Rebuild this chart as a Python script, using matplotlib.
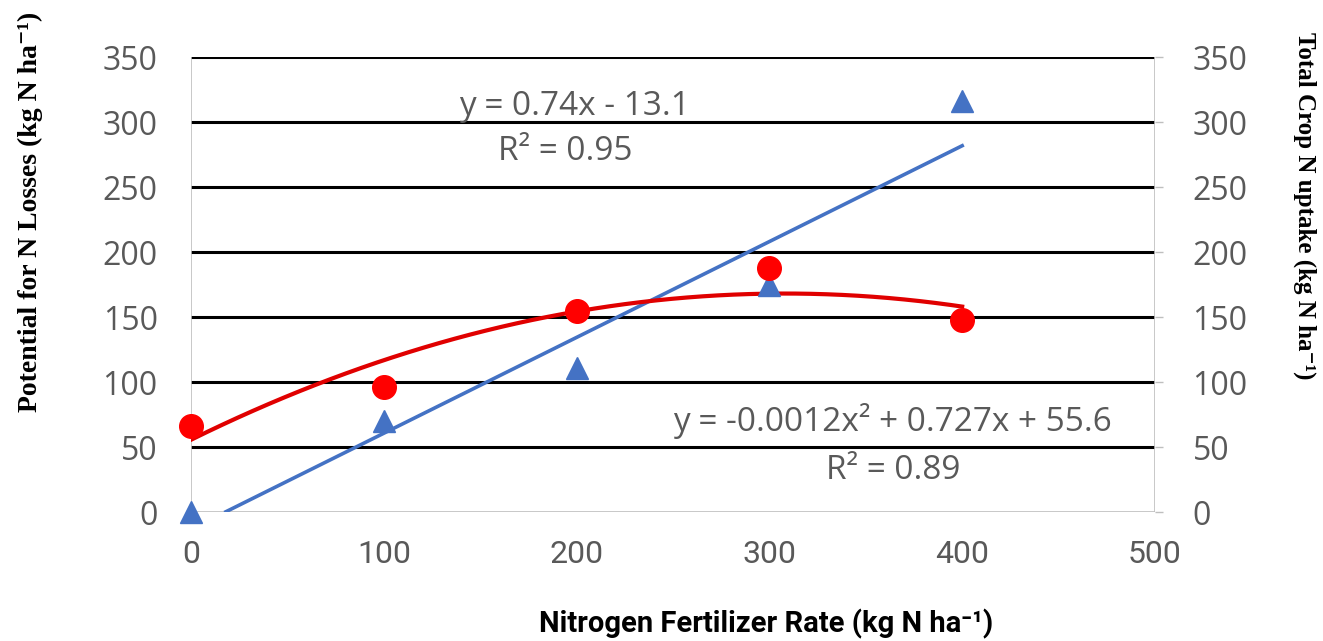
import numpy as np
import matplotlib.pyplot as plt

# Data
rates = [0, 100, 200, 300, 400]
uptake = [0, 70, 111, 175, 316]      # blue triangles (Total crop N uptake)
losses = [66, 96, 155, 188, 148]     # red circles (Potential for N losses)

x_ticks = [0, 100, 200, 300, 400, 500]
y_ticks = [0, 50, 100, 150, 200, 250, 300, 350]

blue = '#4472C4'
red = '#FF0000'
grey_txt = '#595959'

fig = plt.figure(figsize=(13.23, 6.41), dpi=100)
ax = fig.add_axes([0.1444, 0.201, 0.7286, 0.710])
ax2 = ax.twinx()

for a in (ax, ax2):
    a.set_xlim(0, 500)
    a.set_ylim(0, 350)
    a.set_yticks(y_ticks)
    for s in a.spines.values():
        s.set_visible(False)

# black horizontal grid lines
for yv in y_ticks[1:]:
    ax.axhline(yv, color='black', lw=2.2, zorder=1)
ax.axhline(0, color='#BFBFBF', lw=1.2, zorder=1)
ax.axvline(0, color='#BFBFBF', lw=1.2, zorder=1)
ax.axvline(500, color='#BFBFBF', lw=1.2, zorder=1)

# trendlines (Excel style fits)
lin = np.polyfit(rates, uptake, 1)
xl = np.linspace(0, 400, 200)
yl = np.polyval(lin, xl)
m = yl >= 0
ax.plot(xl[m], yl[m], color=blue, lw=2.6, zorder=2)

quad = np.polyfit(rates, losses, 2)
ax.plot(xl, np.polyval(quad, xl), color='#E00000', lw=3, zorder=2)

ax.plot(rates, uptake, '^', color=blue, ms=16, zorder=3, clip_on=False)
ax.plot(rates, losses, 'o', color=red, ms=17, zorder=4, clip_on=False)

# ticks
ax.set_xticks(x_ticks)
ax.set_xticklabels([str(v) for v in x_ticks], family='Roboto',
                   fontsize=23, color=grey_txt)
ax.tick_params(axis='x', length=0, pad=20)
ax.set_yticklabels([str(v) for v in y_ticks], family='Open Sans', fontsize=23, color=grey_txt)
ax.tick_params(axis='y', length=0, pad=24)
ax2.set_yticklabels([str(v) for v in y_ticks], family='Open Sans', fontsize=23, color=grey_txt)
ax2.tick_params(axis='y', length=6, width=1, color='#BFBFBF', pad=21)

# trendline equations
eq_kw = dict(ha='center', va='center', family='Open Sans', fontsize=24, color=grey_txt)
ax.text(199, 312, 'y = 0.74x - 13.1', **eq_kw)
ax.text(194, 277, 'R² = 0.95', **eq_kw)
ax.text(364, 70, 'y = -0.0012x² + 0.727x + 55.6', **eq_kw)
ax.text(364, 32, 'R² = 0.89', **eq_kw)

# axis titles
fig.text(0.023, 0.669, 'Potential for N Losses (kg N ha⁻¹)', rotation=90,
         ha='center', va='center', fontsize=20, fontweight='bold',
         family=['Liberation Serif', 'DejaVu Serif'])
fig.text(0.986, 0.679, 'Total Crop N uptake (kg N ha⁻¹)', rotation=-90,
         ha='center', va='center', fontsize=18, fontweight='bold',
         family=['Liberation Serif', 'DejaVu Serif'])
fig.text(0.579, 0.027, 'Nitrogen Fertilizer Rate (kg N ha⁻¹)',
         ha='center', va='center', fontsize=21, fontweight='bold',
         family=['Roboto', 'DejaVu Sans'])

fig.savefig('out.png', dpi=100)
